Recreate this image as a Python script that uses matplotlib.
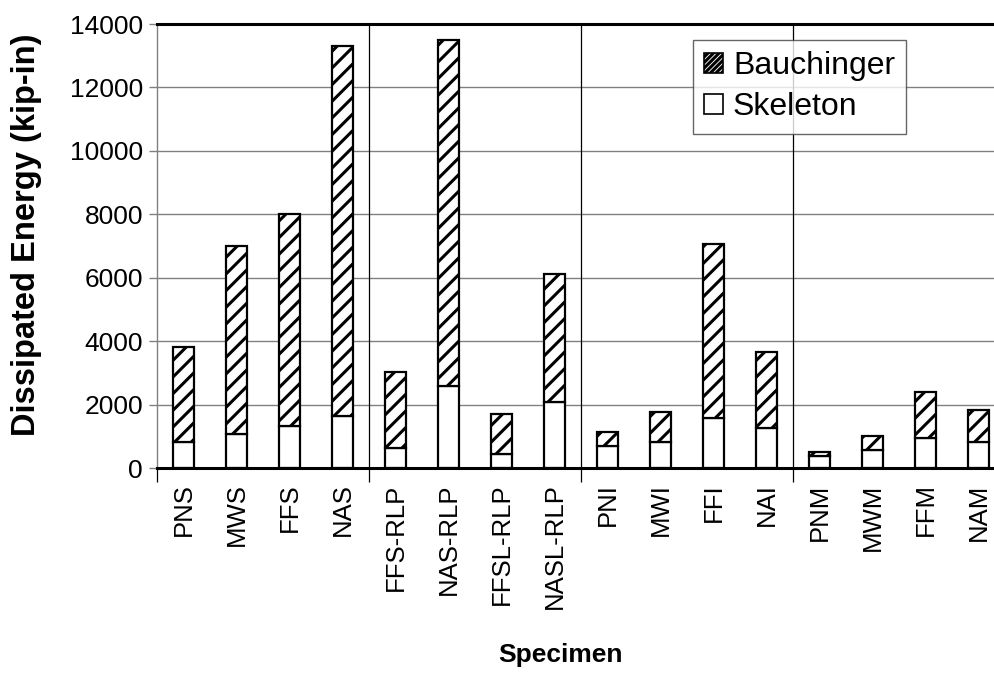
import numpy as np
import matplotlib
matplotlib.use("Agg")
import matplotlib.pyplot as plt
from matplotlib.patches import Patch

plt.rcParams['font.family'] = ['Liberation Sans', 'DejaVu Sans']
plt.rcParams['hatch.linewidth'] = 2.2

# specimen names
specimens = ['PNS', 'MWS', 'FFS', 'NAS',
             'FFS-RLP', 'NAS-RLP', 'FFSL-RLP', 'NASL-RLP',
             'PNI', 'MWI', 'FFI', 'NAI',
             'PNM', 'MWM', 'FFM', 'NAM']

# total dissipated energy (top of stacked bar) and skeleton part, kip-in
total = [3800, 7000, 8000, 13300,
         3040, 13500, 1710, 6120,
         1150, 1780, 7050, 3650,
         515, 1020, 2400, 1830]
skeleton = [820, 1080, 1325, 1650,
            640, 2600, 440, 2090,
            695, 830, 1590, 1250,
            380, 560, 956, 830]

bauchinger = np.array(total) - np.array(skeleton)
x = np.arange(len(specimens))

fig = plt.figure(figsize=(9.95, 6.82), dpi=100)
ax = fig.add_axes([157 / 995, 1 - 468 / 682, 848 / 995, 444 / 682])

# gridlines
ax.set_axisbelow(True)
for yv in range(2000, 14000, 2000):
    ax.axhline(yv, color='#808080', lw=1.0, zorder=0)
for xv in [3.5, 7.5, 11.5]:
    ax.axvline(xv, color='black', lw=0.9, zorder=0)

# stacked bars
ax.bar(x, skeleton, width=0.38, color='white', edgecolor='black', lw=1.6, zorder=2)
ax.bar(x, bauchinger, width=0.38, bottom=skeleton, color='white', edgecolor='black',
       hatch='//', lw=1.6, zorder=2)

ax.set_xlim(-0.5, 15.5)
ax.set_ylim(0, 14000)
ax.set_yticks(range(0, 14001, 2000))
ax.tick_params(axis='y', labelsize=19, length=6, color='#808080', width=1, pad=4)

ax.set_xticks(x)
ax.set_xticklabels(specimens, rotation=90, fontsize=18.5)
ax.tick_params(axis='x', which='major', length=0, pad=11)
ax.set_xticks([-0.5, 3.5, 7.5, 11.5], minor=True)
ax.tick_params(axis='x', which='minor', length=10, color='black', width=0.9)

ax.spines['right'].set_visible(False)
ax.spines['left'].set_color('#808080')
ax.spines['left'].set_linewidth(1.0)
ax.spines['bottom'].set_linewidth(2.2)
ax.spines['top'].set_linewidth(2.2)

fig.text(27 / 995, 1 - 235 / 682, 'Dissipated Energy (kip-in)', fontsize=23.5,
         fontweight='bold', rotation=90, ha='center', va='center')
fig.text(560 / 995, 1 - 655 / 682, 'Specimen', fontsize=19, fontweight='bold',
         ha='center', va='center')

handles = [Patch(facecolor='white', edgecolor='black', hatch='//////', lw=1.2, label='Bauchinger'),
           Patch(facecolor='white', edgecolor='black', lw=1.2, label='Skeleton')]
leg = fig.legend(handles=handles, loc='upper left', bbox_to_anchor=(693 / 995, 1 - 40 / 682),
                 fontsize=23, frameon=True, fancybox=False, edgecolor='#404040',
                 handlelength=0.6, handleheight=0.6, handletextpad=0.3,
                 borderpad=0.35, labelspacing=0.35, borderaxespad=0)
leg.get_frame().set_linewidth(1.0)

fig.savefig('out.png', dpi=100)
